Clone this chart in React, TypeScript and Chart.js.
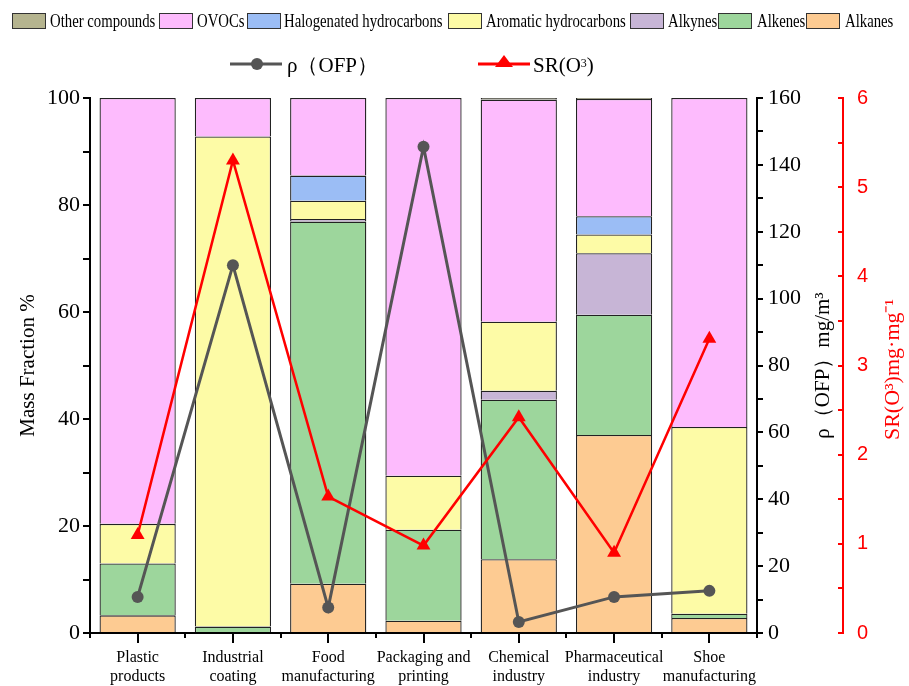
import React, { useEffect, useRef } from "react";
import { Chart, registerables } from "chart.js";
Chart.register(...registerables);

const categories = [
  ["Plastic", "products"],
  ["Industrial", "coating"],
  ["Food", "manufacturing"],
  ["Packaging and", "printing"],
  ["Chemical", "industry"],
  ["Pharmaceutical", "industry"],
  ["Shoe", "manufacturing"],
];
const alkanes = [3.3, 0.2, 9.2, 2.3, 13.8, 37.0, 2.8];
const alkenes = [9.7, 1.0, 67.7, 17.0, 29.8, 22.5, 0.8];
const alkynes = [0, 0, 0.5, 0, 1.7, 11.5, 0];
const aromatic = [7.4, 91.6, 3.4, 10.1, 12.9, 3.5, 34.9];
const halogenated = [0, 0, 4.7, 0, 0, 3.4, 0];
const ovocs = [79.6, 7.2, 14.5, 70.6, 41.5, 21.9, 61.5];
const others = [0, 0, 0, 0, 0.3, 0.2, 0];
const ofp = [10.8, 110, 7.6, 145.4, 3.3, 10.8, 12.6];
const sr = [1.1, 5.3, 1.53, 0.98, 2.42, 0.9, 3.3];

const massRange = [0, 100];
const ofpRange = [0, 160];
const srRange = [0, 6];

const COLORS = {
  others: "#B5B48F",
  ovocs: "#FDBBFD",
  halo: "#9BBDF5",
  aromatic: "#FDFBA6",
  alkynes: "#C7B5D6",
  alkenes: "#9DD69C",
  alkanes: "#FDCB92",
};

const legendItems = [
  { label: "Other compounds", color: COLORS.others, box: 12, text: 50 },
  { label: "OVOCs", color: COLORS.ovocs, box: 159, text: 197 },
  { label: "Halogenated hydrocarbons", color: COLORS.halo, box: 247, text: 284 },
  { label: "Aromatic hydrocarbons", color: COLORS.aromatic, box: 448, text: 486 },
  { label: "Alkynes", color: COLORS.alkynes, box: 630, text: 668 },
  { label: "Alkenes", color: COLORS.alkenes, box: 718, text: 757 },
  { label: "Alkanes", color: COLORS.alkanes, box: 806, text: 845 },
];

const SERIF = "'Liberation Serif', 'Times New Roman', serif";

const extrasPlugin = {
  id: "extras",
  afterDraw(chart: any) {
    const ctx = chart.ctx;
    const x = chart.scales.x;
    const n = categories.length;
    const p0 = x.getPixelForValue(0);
    const w = x.getPixelForValue(1) - p0;
    ctx.save();
    ctx.strokeStyle = "#000";
    ctx.lineWidth = 2;
    for (let i = 0; i <= n; i++) {
      const px = Math.round(p0 + (i - 0.5) * w);
      ctx.beginPath();
      ctx.moveTo(px, x.top);
      ctx.lineTo(px, x.top + 5);
      ctx.stroke();
    }
    const area = chart.chartArea;
    const cy = (area.top + area.bottom) / 2;
    const y1 = chart.scales.y1;
    const y2 = chart.scales.y2;
    ctx.textAlign = "center";
    ctx.textBaseline = "middle";
    ctx.save();
    ctx.translate(y1.right - 20, cy);
    ctx.rotate(-Math.PI / 2);
    ctx.fillStyle = "#000";
    ctx.font = "21px " + SERIF;
    ctx.fillText("ρ（OFP）mg/m³", 0, 0);
    ctx.restore();
    ctx.save();
    ctx.translate(y2.right - 16, cy + 4);
    ctx.rotate(-Math.PI / 2);
    ctx.fillStyle = "#FF0000";
    ctx.font = "22px " + SERIF;
    ctx.fillText("SR(O³)mg·mg⁻¹", 0, 0);
    ctx.restore();
    ctx.restore();
  },
};

export default function App() {
  const ref = useRef<HTMLCanvasElement | null>(null);
  useEffect(() => {
    document.body.style.margin = "0";
    const canvas = ref.current;
    if (!canvas) return;
    const bar = (label: string, data: number[], color: string) => ({
      type: "bar" as const,
      label,
      data,
      backgroundColor: color,
      borderColor: "#222222",
      borderWidth: 1.3,
      stack: "s",
      yAxisID: "y",
      order: 3,
      barPercentage: 0.8,
      categoryPercentage: 1,
    });
    const chart = new Chart(canvas, {
      type: "bar",
      data: {
        labels: categories as any,
        datasets: [
          bar("Alkanes", alkanes, COLORS.alkanes),
          bar("Alkenes", alkenes, COLORS.alkenes),
          bar("Alkynes", alkynes, COLORS.alkynes),
          bar("Aromatic hydrocarbons", aromatic, COLORS.aromatic),
          bar("Halogenated hydrocarbons", halogenated, COLORS.halo),
          bar("OVOCs", ovocs, COLORS.ovocs),
          bar("Other compounds", others, COLORS.others),
          {
            type: "line",
            label: "ρ（OFP）",
            data: ofp,
            yAxisID: "y1",
            borderColor: "#555555",
            backgroundColor: "#555555",
            borderWidth: 3,
            pointRadius: 6,
            pointStyle: "circle",
            pointBorderWidth: 0,
            order: 2,
          } as any,
          {
            type: "line",
            label: "SR(O³)",
            data: sr,
            yAxisID: "y2",
            borderColor: "#FF0000",
            backgroundColor: "#FF0000",
            borderWidth: 2.5,
            pointRadius: 8,
            pointStyle: "triangle",
            pointBorderWidth: 0,
            order: 1,
          } as any,
        ],
      },
      options: {
        animation: false,
        responsive: false,
        layout: { padding: { top: 98, left: 0, right: 0, bottom: 0 } },
        plugins: { legend: { display: false }, tooltip: { enabled: false } },
        scales: {
          x: {
            stacked: true,
            offset: true,
            grid: { display: true, offset: false, drawOnChartArea: false, drawTicks: true, tickLength: 10, color: "#000", lineWidth: 2 },
            border: { display: true, color: "#000", width: 2 },
            ticks: { color: "#000", font: { family: SERIF, size: 16, lineHeight: 1.2 }, padding: 5, maxRotation: 0, autoSkip: false },
            afterFit: (s: any) => { s.height = 53; },
          },
          y: {
            position: "left",
            stacked: true,
            min: massRange[0],
            max: massRange[1],
            grid: { drawOnChartArea: false, drawTicks: true, tickLength: 7, color: "#000", lineWidth: 2 },
            border: { display: true, color: "#000", width: 2 },
            ticks: {
              stepSize: 10,
              autoSkip: false,
              color: "#000",
              padding: 3,
              font: { family: SERIF, size: 22 },
              callback: (v: any) => (Number(v) % 20 === 0 ? String(v) : ""),
            },
            title: { display: true, text: "Mass Fraction %", color: "#000", font: { family: SERIF, size: 21 }, padding: { top: 16, bottom: 0 } },
            afterFit: (s: any) => { s.width = 90; },
          },
          y1: {
            position: "right",
            min: ofpRange[0],
            max: ofpRange[1],
            grid: { drawOnChartArea: false, drawTicks: true, tickLength: 6, color: "#000", lineWidth: 2 },
            border: { display: true, color: "#000", width: 2 },
            ticks: {
              stepSize: 10,
              autoSkip: false,
              color: "#000",
              padding: 5,
              font: { family: SERIF, size: 22 },
              callback: (v: any) => (Number(v) % 20 === 0 ? String(v) : ""),
            },
            afterFit: (s: any) => { s.width = 86; },
          },
          y2: {
            position: "right",
            min: srRange[0],
            max: srRange[1],
            grid: { drawOnChartArea: false, drawTicks: true, tickLength: -5, color: "#FF0000", lineWidth: 2 },
            border: { display: true, color: "#FF0000", width: 2 },
            ticks: {
              stepSize: 0.5,
              autoSkip: false,
              color: "#FF0000",
              padding: 19,
              font: { family: "'Liberation Sans', Arial, sans-serif", size: 20 },
              callback: (v: any) => (Number.isInteger(Number(v)) ? String(v) : ""),
            },
            afterFit: (s: any) => { s.width = 66; },
          },
        },
      } as any,
      plugins: [extrasPlugin],
    });
    return () => chart.destroy();
  }, []);

  return (
    <div style={{ position: "relative", width: 909, height: 686, background: "#fff", overflow: "hidden" }}>
      <canvas ref={ref} width={909} height={686} style={{ position: "absolute", left: 0, top: 0, width: 909, height: 686 }} />
      {legendItems.map((it) => (
        <React.Fragment key={it.label}>
          <div
            style={{
              position: "absolute",
              left: it.box,
              top: 13,
              width: 34,
              height: 16,
              boxSizing: "border-box",
              border: "1px solid #333",
              background: it.color,
            }}
          />
          <div
            style={{
              position: "absolute",
              left: it.text,
              top: 10,
              height: 22,
              lineHeight: "22px",
              fontFamily: SERIF,
              fontSize: 18,
              whiteSpace: "nowrap",
              transform: "scaleX(0.82)",
              transformOrigin: "left center",
              color: "#000",
            }}
          >
            {it.label}
          </div>
        </React.Fragment>
      ))}
      <svg style={{ position: "absolute", left: 0, top: 50 }} width={909} height={30}>
        <line x1={230} y1={14} x2={282} y2={14} stroke="#555555" strokeWidth={3} />
        <circle cx={257} cy={14} r={6} fill="#555555" />
        <line x1={478} y1={14} x2={530} y2={14} stroke="#FF0000" strokeWidth={3} />
        <polygon points="504,5 513,17 495,17" fill="#FF0000" />
      </svg>
      <div style={{ position: "absolute", left: 287, top: 52, lineHeight: "26px", fontFamily: SERIF, fontSize: 21, whiteSpace: "nowrap", color: "#000" }}>
        ρ（OFP）
      </div>
      <div style={{ position: "absolute", left: 533, top: 52, lineHeight: "26px", fontFamily: SERIF, fontSize: 21, whiteSpace: "nowrap", color: "#000" }}>
        SR(O<sup style={{ fontSize: 12, verticalAlign: "top", position: "relative", top: -2 }}>3</sup>)
      </div>
    </div>
  );
}
